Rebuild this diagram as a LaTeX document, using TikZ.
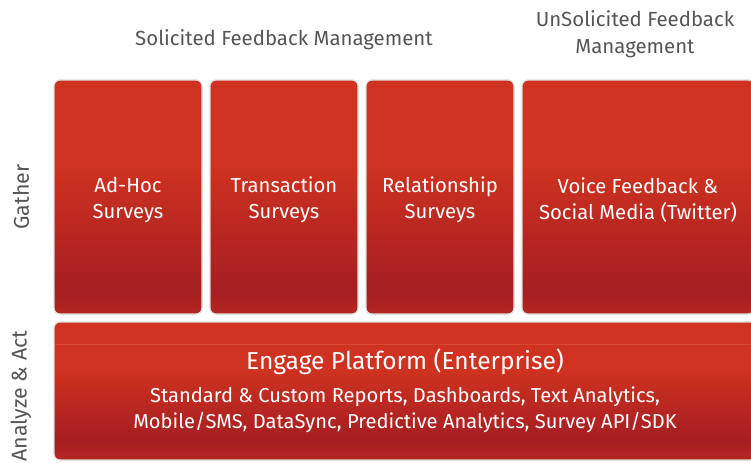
\documentclass[tikz,border=0pt]{standalone}
\usepackage{fontspec}
\setmainfont{Fira Sans}
\definecolor{boxtop}{HTML}{CF3220}
\definecolor{boxdark}{HTML}{A51E21}
\definecolor{boxfoot}{HTML}{B42622}
\definecolor{headgray}{HTML}{555555}
\definecolor{bandline}{HTML}{D6492F}
\pgfdeclareverticalshading{surveyshade}{100bp}{color(0bp)=(boxfoot); color(25bp)=(boxfoot); color(30bp)=(boxdark); color(57bp)=(boxtop); color(75bp)=(boxtop); color(100bp)=(boxtop)}
\pgfdeclareverticalshading{engageshade}{100bp}{color(0bp)=(boxfoot); color(25bp)=(boxfoot); color(32bp)=(boxdark); color(58bp)=(boxtop); color(75bp)=(boxtop); color(100bp)=(boxtop)}
\tikzset{
  surveybox/.style={rounded corners=4.5pt, shading=surveyshade, draw=black!14, line width=0.9pt,
    minimum height=175.5pt, text=white, align=center, inner sep=0pt,
    font=\fontsize{15.2}{19.5}\selectfont},
  boxlabel/.style={text=white, align=center, font=\fontsize{15.2}{19.5}\selectfont},
  headtext/.style={text=headgray, align=center, font=\fontsize{15.3}{20}\selectfont},
  sidetext/.style={text=headgray, rotate=90, font=\fontsize{16}{17}\selectfont}
}
\begin{document}
\begin{tikzpicture}[x=0.75pt, y=-0.75pt]
                \useasboundingbox (0,0) rectangle (751,462);
                \clip (0,0) rectangle (751,462);
                
                % Headings
                \node [headtext] (solicited) at (284,40) {Solicited Feedback Management};
                \node [headtext] (unsolicited) at (635,34) {UnSolicited Feedback\\Management};
                
                % Side labels
                \node [sidetext] (gather) at (21,197) {Gather};
                \node [sidetext] (analyze) at (21,396) {Analyze \& Act};
                
                % Gather boxes
                \node [surveybox, minimum width=111pt] (adhoc) at (128,197) {};
                \node [surveybox, minimum width=111pt] (transaction) at (284,197) {};
                \node [surveybox, minimum width=111pt] (relationship) at (440,197) {};
                \node [surveybox, minimum width=174pt] (voice) at (638,197) {};
                \node [boxlabel] (adhoctext) at (128,200) {Ad-Hoc\\Surveys};
                \node [boxlabel] (transactiontext) at (284,200) {Transaction\\Surveys};
                \node [boxlabel] (relationshiptext) at (440,200) {Relationship\\Surveys};
                \node [boxlabel] (voicetext) at (638,200) {Voice Feedback \&\\Social Media (Twitter)};
                
                % Engage platform box
                \node [surveybox, shading=engageshade, minimum width=526.5pt, minimum height=103.5pt] (engage) at (405,391) {};
                \draw [bandline, line width=0.6pt] (55,344) -- (751,344);
                \node [text=white, font=\fontsize{18.4}{20}\selectfont] (engagetitle) at (405,362) {Engage Platform (Enterprise)};
                \node [text=white, align=center, font=\fontsize{15.1}{19.5}\selectfont] (engagelist) at (405,410)
                  {Standard \& Custom Reports, Dashboards, Text Analytics,\\Mobile/SMS, DataSync, Predictive Analytics, Survey API/SDK};
\end{tikzpicture}
\end{document}
